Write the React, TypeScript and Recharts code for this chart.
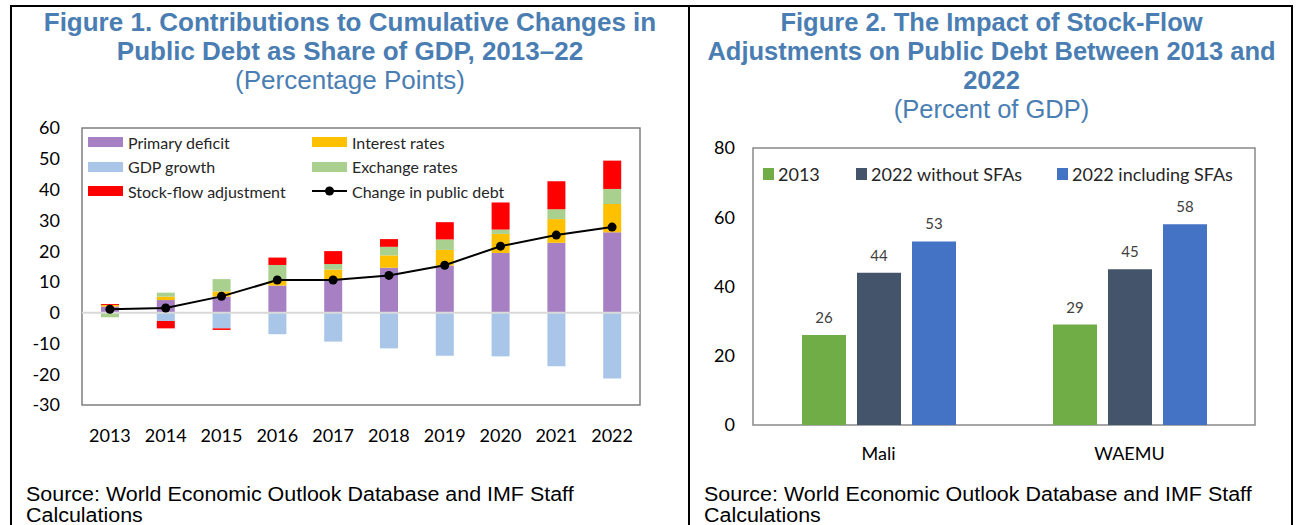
import React from 'react';
import {
  ComposedChart,
  BarChart,
  Bar,
  Line,
  XAxis,
  YAxis,
  ReferenceLine,
  ReferenceArea,
  Legend,
  LabelList,
} from 'recharts';

// Figure 1 - contributions (percentage points)
const years = ['2013', '2014', '2015', '2016', '2017', '2018', '2019', '2020', '2021', '2022'];
const primaryDeficit = [2.0, 4.1, 5.2, 8.8, 10.6, 14.6, 15.3, 19.4, 22.7, 26.1];
const gdpGrowth = [0, -2.7, -5.1, -7.0, -9.4, -11.6, -14.0, -14.2, -17.4, -21.4];
const interestRates = [0.5, 1.1, 1.7, 1.5, 3.4, 4.0, 5.1, 6.2, 7.7, 9.2];
const exchangeRates = [-1.5, 1.3, 4.0, 5.2, 1.8, 2.8, 3.4, 1.4, 3.2, 4.9];
const stockFlow = [0.3, -2.4, -0.5, 2.4, 4.2, 2.5, 5.6, 8.8, 9.1, 9.2];
const debtChange = [1.1, 1.5, 5.3, 10.6, 10.6, 12.1, 15.4, 21.6, 25.2, 27.8];
const fig1Ticks = [-30, -20, -10, 0, 10, 20, 30, 40, 50, 60];

// Figure 2 - public debt (percent of GDP)
const countries = ['Mali', 'WAEMU'];
const debt2013 = [26, 29];
const debt2022NoSfa = [44, 45];
const debt2022WithSfa = [53, 58];
const fig2Ticks = [0, 20, 40, 60, 80];

const fig1Data = years.map((year, i) => ({
  year,
  primary: primaryDeficit[i],
  gdp: gdpGrowth[i],
  interest: interestRates[i],
  exchange: exchangeRates[i],
  sfa: stockFlow[i],
  debt: debtChange[i],
}));

const fig2Data = countries.map((country, i) => ({
  country,
  y2013: debt2013[i],
  noSfa: debt2022NoSfa[i],
  withSfa: debt2022WithSfa[i],
}));

const fig1Bars = [
  { key: 'primary', name: 'Primary deficit', color: '#a680c3' },
  { key: 'gdp', name: 'GDP growth', color: '#a9c6e9' },
  { key: 'interest', name: 'Interest rates', color: '#ffc000' },
  { key: 'exchange', name: 'Exchange rates', color: '#a9d08e' },
  { key: 'sfa', name: 'Stock-flow adjustment', color: '#ff0000' },
];

const fig2Bars = [
  { key: 'y2013', name: '2013', color: '#70ad47' },
  { key: 'noSfa', name: '2022 without SFAs', color: '#44546a' },
  { key: 'withSfa', name: '2022 including SFAs', color: '#4472c4' },
];

const chartFont = 'Lato, "Open Sans", sans-serif';
const titleColor = '#4a7eb3';

const titleStyle: React.CSSProperties = {
  position: 'absolute',
  textAlign: 'center',
  color: titleColor,
  fontFamily: '"Liberation Sans", Arial, sans-serif',
  fontSize: 26,
  lineHeight: '29px',
  whiteSpace: 'nowrap',
};

// the source note is drawn a bit wide, as in the original
const sourceStyle: React.CSSProperties = {
  position: 'absolute',
  fontFamily: '"Liberation Sans", Arial, sans-serif',
  fontSize: 19.5,
  lineHeight: '21px',
  color: '#000',
  whiteSpace: 'nowrap',
  transform: 'scaleX(1.1)',
  transformOrigin: 'left top',
};

function Fig1Legend() {
  // rows: [Primary deficit, Interest rates], [GDP growth, Exchange rates], [SFA, Change in debt]
  const cells = [
    fig1Bars[0], fig1Bars[2],
    fig1Bars[1], fig1Bars[3],
    fig1Bars[4], null,
  ];
  return (
    <div style={{ position: 'relative', width: 450, height: 80, fontFamily: chartFont, fontSize: 16, color: '#262626' }}>
      {cells.map((c, i) => {
        const col = i % 2;
        const row = Math.floor(i / 2);
        const left = col === 0 ? 0 : 224;
        const top = row * 24.5;
        return (
          <div key={i} style={{ position: 'absolute', left, top, height: 20, display: 'flex', alignItems: 'center', whiteSpace: 'nowrap' }}>
            {c ? (
              <span style={{ display: 'inline-block', width: 35, height: 10, background: c.color, marginRight: 5 }} />
            ) : (
              <svg width={35} height={12} style={{ marginRight: 5 }}>
                <line x1={0} y1={6} x2={35} y2={6} stroke="#000" strokeWidth={2} />
                <circle cx={17.5} cy={6} r={4.5} fill="#000" />
              </svg>
            )}
            <span>{c ? c.name : 'Change in public debt'}</span>
          </div>
        );
      })}
    </div>
  );
}

function Fig2Legend() {
  const lefts = [0, 93, 294];
  return (
    <div style={{ position: 'relative', width: 500, height: 24, fontFamily: chartFont, fontSize: 18, color: '#262626' }}>
      {fig2Bars.map((b, i) => (
        <div key={b.key} style={{ position: 'absolute', left: lefts[i], top: 0, height: 24, display: 'flex', alignItems: 'center', whiteSpace: 'nowrap' }}>
          <span style={{ display: 'inline-block', width: 11, height: 12, background: b.color, marginRight: 4 }} />
          <span>{b.name}</span>
        </div>
      ))}
    </div>
  );
}

export default function App() {
  return (
    <div style={{ position: 'absolute', left: 0, top: 0, width: 1296, height: 525, background: '#fff', overflow: 'hidden' }}>
      {/* frame */}
      <div style={{ position: 'absolute', left: 10, top: 5, width: 1283, height: 530, borderTop: '2px solid #000', borderLeft: '2px solid #000', borderRight: '2px solid #000', boxSizing: 'border-box' }} />
      <div style={{ position: 'absolute', left: 688, top: 5, width: 2, height: 530, background: '#000' }} />

      {/* Figure 1 titles */}
      <div style={{ ...titleStyle, left: 12, top: 8, width: 676, fontWeight: 'bold' }}>
        Figure 1. Contributions to Cumulative Changes in<br />Public Debt as Share of GDP, 2013–22
      </div>
      <div style={{ ...titleStyle, left: 12, top: 66, width: 676 }}>(Percentage Points)</div>

      {/* Figure 2 titles */}
      <div style={{ ...titleStyle, left: 690, top: 8, width: 603, fontSize: 25.5, fontWeight: 'bold' }}>
        Figure 2. The Impact of Stock-Flow<br />Adjustments on Public Debt Between 2013 and<br />2022
      </div>
      <div style={{ ...titleStyle, left: 690, top: 95, width: 603, fontSize: 25.5 }}>(Percent of GDP)</div>

      {/* Figure 1 chart */}
      <div style={{ position: 'absolute', left: 0, top: 110 }}>
        <ComposedChart
          width={690}
          height={340}
          data={fig1Data}
          stackOffset="sign"
          margin={{ top: 18, right: 50, bottom: 0, left: 0 }}
        >
          <XAxis
            dataKey="year"
            axisLine={false}
            tickLine={false}
            height={45}
            tickSize={0}
            tickMargin={24}
            tick={{ fill: '#000', fontSize: 18, fontFamily: chartFont }}
            interval={0}
          />
          <YAxis
            domain={[-30, 60]}
            ticks={fig1Ticks}
            width={82}
            axisLine={false}
            tickLine={false}
            tickSize={0}
            tickMargin={22}
            tick={{ fill: '#000', fontSize: 18, fontFamily: chartFont }}
            interval={0}
          />
          <ReferenceArea y1={-30} y2={60} fill="none" stroke="#7f7f7f" strokeWidth={1.5} />
          {fig1Bars.map((b) => (
            <Bar key={b.key} dataKey={b.key} name={b.name} stackId="a" fill={b.color} barSize={18} isAnimationActive={false} />
          ))}
          <ReferenceLine y={0} stroke="#d9d9d9" strokeWidth={2} />
          <Line
            dataKey="debt"
            name="Change in public debt"
            stroke="#000"
            strokeWidth={2}
            dot={{ r: 4.5, fill: '#000', stroke: '#000', strokeWidth: 0 }}
            isAnimationActive={false}
          />
          <Legend
            layout="horizontal"
            verticalAlign="middle"
            wrapperStyle={{ top: 22, left: 88, width: 450 }}
            content={() => <Fig1Legend />}
          />
        </ComposedChart>
      </div>

      {/* Figure 2 chart */}
      <div style={{ position: 'absolute', left: 690, top: 130 }}>
        <BarChart
          width={606}
          height={340}
          data={fig2Data}
          barGap={11}
          margin={{ top: 18, right: 41, bottom: 0, left: 0 }}
        >
          <XAxis
            dataKey="country"
            axisLine={false}
            tickLine={false}
            height={45}
            tickSize={0}
            tickMargin={22}
            tick={{ fill: '#000', fontSize: 18, fontFamily: chartFont }}
          />
          <YAxis
            domain={[0, 80]}
            ticks={fig2Ticks}
            width={63}
            axisLine={false}
            tickLine={false}
            tickSize={0}
            tickMargin={18}
            tick={{ fill: '#000', fontSize: 18, fontFamily: chartFont }}
            interval={0}
          />
          <ReferenceArea y1={0} y2={80} fill="none" stroke="#898989" strokeWidth={1.5} />
          {fig2Bars.map((b) => (
            <Bar key={b.key} dataKey={b.key} name={b.name} fill={b.color} barSize={44} isAnimationActive={false}>
              <LabelList dataKey={b.key} position="top" offset={12} fill="#404040" fontSize={15} fontFamily={chartFont} />
            </Bar>
          ))}
          <Legend
            layout="horizontal"
            verticalAlign="middle"
            wrapperStyle={{ top: 32, left: 73, width: 500 }}
            content={() => <Fig2Legend />}
          />
        </BarChart>
      </div>

      {/* sources */}
      <div style={{ ...sourceStyle, left: 26, top: 484 }}>
        Source: World Economic Outlook Database and IMF Staff<br />Calculations
      </div>
      <div style={{ ...sourceStyle, left: 704, top: 484 }}>
        Source: World Economic Outlook Database and IMF Staff<br />Calculations
      </div>
    </div>
  );
}
